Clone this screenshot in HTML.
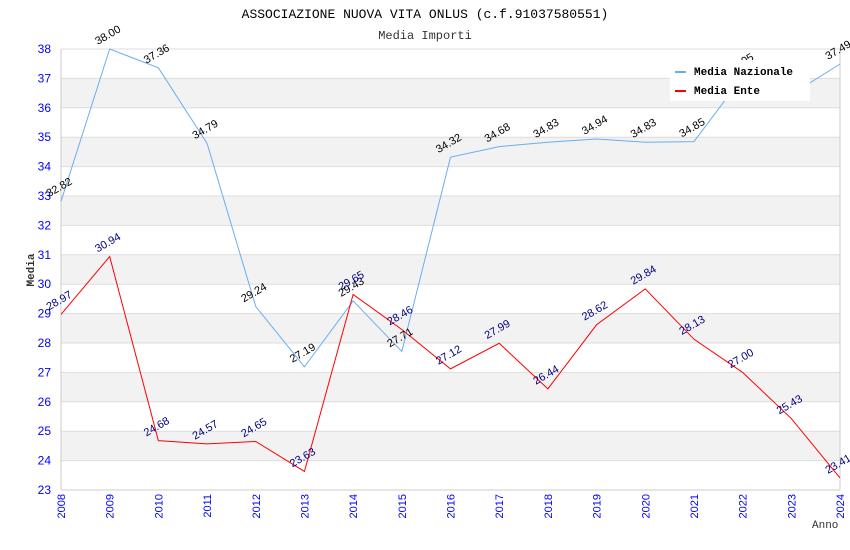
<!DOCTYPE html>
<html><head><meta charset="utf-8"><style>
body{margin:0;background:#fff;width:850px;height:550px;overflow:hidden}
svg{display:block;font-family:"Liberation Sans",sans-serif}
</style></head><body>
<svg id="chart" width="850" height="550">
<text x="425" y="18" text-anchor="middle" font-family="Liberation Mono, monospace" font-size="13" fill="#000">ASSOCIAZIONE NUOVA VITA ONLUS (c.f.91037580551)</text>
<text x="425" y="39" text-anchor="middle" font-family="Liberation Mono, monospace" font-size="12" fill="#333">Media Importi</text>
<g id="bands"></g><g id="grid"></g><g id="axes"></g><g id="series"></g><g id="labels"></g>
<text x="34" y="270" transform="rotate(-90 34 270)" text-anchor="middle" font-family="Liberation Mono, monospace" font-weight="bold" font-size="11" fill="#333">Media</text>
<text x="812" y="528" font-family="Liberation Mono, monospace" font-size="11" fill="#333">Anno</text>
<g>
<rect x="670" y="60" width="140" height="41" fill="#fff"/>
<g><rect x="675" y="71" width="11" height="2" fill="#6aaef0"/><text x="694" y="75" font-family="Liberation Mono, monospace" font-weight="bold" font-size="11">Media Nazionale</text></g>
<g><rect x="675" y="90" width="11" height="2" fill="#f00"/><text x="694" y="94" font-family="Liberation Mono, monospace" font-weight="bold" font-size="11">Media Ente</text></g>
</g>
</svg>
<script>
const years=[2008,2009,2010,2011,2012,2013,2014,2015,2016,2017,2018,2019,2020,2021,2022,2023,2024];
const nazionale=[32.82,38.00,37.36,34.79,29.24,27.19,29.43,27.71,34.32,34.68,34.83,34.94,34.83,34.85,37.05,36.45,37.49];
const ente=[28.97,30.94,24.68,24.57,24.65,23.63,29.65,28.46,27.12,27.99,26.44,28.62,29.84,28.13,27.00,25.43,23.41];
const yTicks=[23,24,25,26,27,28,29,30,31,32,33,34,35,36,37,38];
const NS="http://www.w3.org/2000/svg";
const X0=61,X1=840,Y0=490,Y1=49,YMIN=23,YMAX=38;
const xs=i=>X0+(X1-X0)*i/(years.length-1);
const ys=v=>Y0-(v-YMIN)*(Y0-Y1)/(YMAX-YMIN);
function mk(t,a,p){const e=document.createElementNS(NS,t);for(const k in a)e.setAttribute(k,a[k]);p.appendChild(e);return e;}
const bands=document.getElementById('bands'),grid=document.getElementById('grid'),axes=document.getElementById('axes'),series=document.getElementById('series'),labels=document.getElementById('labels');
for(let i=0;i<yTicks.length-1;i++){const v=yTicks[i];
 if(v%2===0){const r=mk('rect',{x:X0,y:ys(v+1),width:X1-X0,height:ys(v)-ys(v+1),fill:'#f2f2f2'},bands);
 
 }}
yTicks.forEach(v=>{const l=mk('line',{x1:X0,x2:X1,y1:ys(v),y2:ys(v),stroke:'#ddd','stroke-width':1},grid);
 
 
 const t=mk('text',{x:X0-10,y:ys(v)+4,'text-anchor':'end','font-size':12,fill:'#00f'},axes);t.textContent=v;
 
 });
mk('line',{x1:X0,x2:X0,y1:Y1,y2:Y0,stroke:'#ccc'},axes);
mk('line',{x1:X1,x2:X1,y1:Y1,y2:Y0,stroke:'#ccc'},axes);
mk('line',{x1:X0,x2:X1,y1:Y0,y2:Y0,stroke:'#ccc'},axes);
years.forEach((y,i)=>{const x=xs(i);const t=mk('text',{x:x+4,y:Y0+4,transform:`rotate(-90 ${x+4} ${Y0+4})`,'text-anchor':'end','font-size':11,fill:'#00f'},axes);t.textContent=y;
 
 });
function draw(data,color,lc,name){
 const p=mk('polyline',{points:data.map((v,i)=>xs(i)+','+ys(v)).join(' '),fill:'none',stroke:color,'stroke-width':1},series);
 
 
 data.forEach((v,i)=>{const x=xs(i)-12,y=ys(v)-4;const t=mk('text',{x:x,y:y,transform:`rotate(-30 ${x} ${y})`,'font-size':11,fill:lc},labels);t.textContent=v.toFixed(2);
  
  });
}
draw(nazionale,'#6aaef0','#000','nazionale');
draw(ente,'#f00','#000080','ente');
</script>
</body></html>
